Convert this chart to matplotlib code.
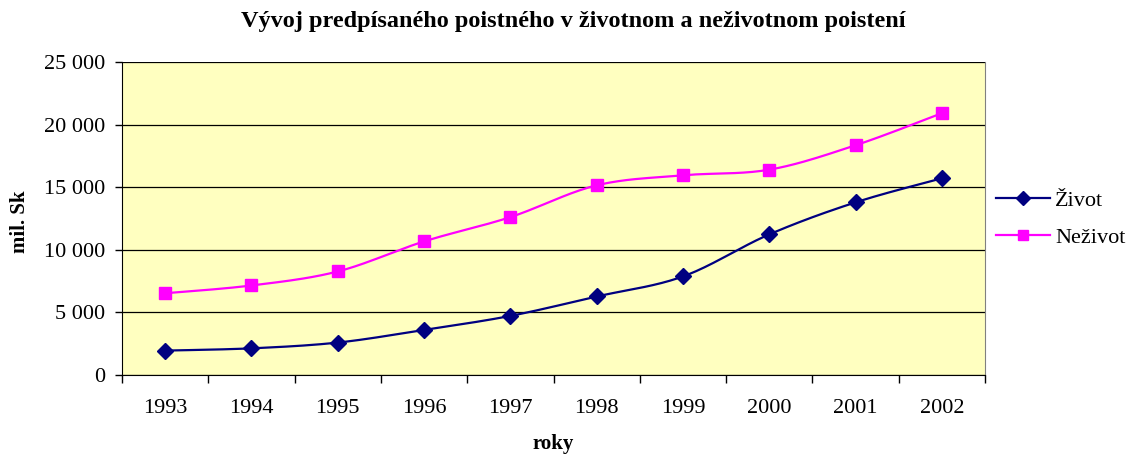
import numpy as np
import matplotlib
matplotlib.use('Agg')
import matplotlib.pyplot as plt
from matplotlib.ticker import FuncFormatter

years = ['1993', '1994', '1995', '1996', '1997', '1998', '1999', '2000', '2001', '2002']
zivot = [1950, 2130, 2590, 3600, 4720, 6270, 7870, 11230, 13790, 15710]
nezivot = [6530, 7150, 8270, 10670, 12610, 15150, 15950, 16400, 18350, 20910]

NAVY = '#000080'
MAGENTA = '#FF00FF'
BG = '#FFFFC0'


def smooth_line(x, y, steps=20):
    # Catmull-Rom curve through the points, like Excel's smoothed line
    x = np.asarray(x, dtype=float)
    y = np.asarray(y, dtype=float)
    px = np.concatenate([[x[0]], x, [x[-1]]])
    py = np.concatenate([[y[0]], y, [y[-1]]])
    xs, ys = [], []
    for i in range(1, len(px) - 2):
        t = np.linspace(0, 1, steps, endpoint=False)
        for arr, out in ((px, xs), (py, ys)):
            p0, p1, p2, p3 = arr[i - 1], arr[i], arr[i + 1], arr[i + 2]
            out.extend(0.5 * (2 * p1 + (-p0 + p2) * t
                              + (2 * p0 - 5 * p1 + 4 * p2 - p3) * t ** 2
                              + (-p0 + 3 * p1 - 3 * p2 + p3) * t ** 3))
    xs.append(x[-1])
    ys.append(y[-1])
    return xs, ys


plt.rcParams['font.family'] = ['Liberation Serif', 'DejaVu Serif']

W, H = 1131, 454
fig = plt.figure(figsize=(W / 100, H / 100), dpi=100)
ax = fig.add_axes([122 / W, 1 - 375 / H, (985 - 122) / W, (375 - 62) / H])
ax.set_facecolor(BG)

x = np.arange(len(years))
for values, color, marker, ms, label in ((zivot, NAVY, 'D', 8.5, 'Život'),
                                         (nezivot, MAGENTA, 's', 8.5, 'Neživot')):
    sx, sy = smooth_line(x, values)
    ax.plot(sx, sy, color=color, lw=1.6, zorder=3)
    ax.plot(x, values, linestyle='none', marker=marker, markersize=ms,
            color=color, zorder=4)
    ax.plot([], [], color=color, lw=1.6, marker=marker, markersize=ms - 1,
            label=label)

ax.set_xlim(-0.5, len(years) - 0.5)
ax.set_ylim(0, 25000)
ax.set_yticks(range(0, 25001, 5000))
ax.yaxis.set_major_formatter(FuncFormatter(lambda v, p: f'{int(v):,}'.replace(',', ' ')))
ax.set_xticks(x)
ax.set_xticklabels(years)
ax.set_xticks(np.arange(-0.5, len(years)), minor=True)
ax.tick_params(axis='x', which='major', length=0, pad=17, labelsize=16)
ax.tick_params(axis='x', which='minor', length=6, width=1)
ax.tick_params(axis='y', length=5, width=1, labelsize=16, pad=7)
ax.grid(axis='y', color='black', lw=0.9, zorder=1)

ax.spines['left'].set_color('black')
ax.spines['bottom'].set_color('black')
ax.spines['right'].set_color('#808080')
ax.spines['top'].set_visible(False)

fig.text(573 / W, 1 - 21 / H, 'Vývoj predpísaného poistného v životnom a neživotnom poistení',
         ha='center', va='center', fontsize=17.5, fontweight='bold')
fig.text(20 / W, 1 - 222 / H, 'mil. Sk', ha='center', va='center', rotation=90,
         fontsize=15, fontweight='bold')
fig.text(553 / W, 1 - 444 / H, 'roky', ha='center', va='center',
         fontsize=15, fontweight='bold')

ax.legend(loc='center left', bbox_to_anchor=(996 / W, 1 - 219 / H),
          bbox_transform=fig.transFigure, frameon=False, borderpad=0,
          borderaxespad=0, fontsize=16, handlelength=2.45,
          handletextpad=0.2, labelspacing=0.75)

fig.savefig('out.png', dpi=100)
